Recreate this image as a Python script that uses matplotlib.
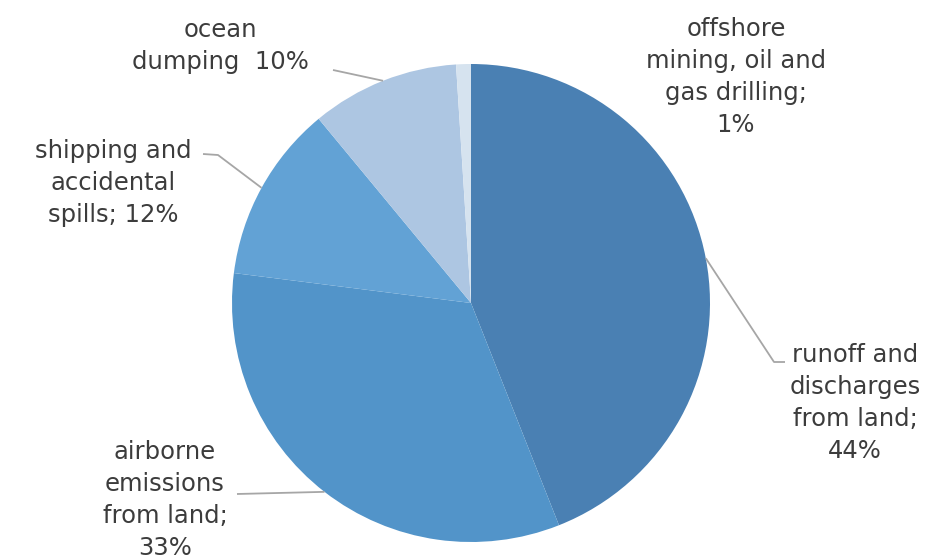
import matplotlib
matplotlib.use("Agg")
import matplotlib.pyplot as plt
import numpy as np

labels = ["runoff and\ndischarges\nfrom land;\n44%",
          "airborne\nemissions\nfrom land;\n33%",
          "shipping and\naccidental\nspills; 12%",
          "ocean\ndumping  10%",
          "offshore\nmining, oil and\ngas drilling;\n1%"]
values = [44, 33, 12, 10, 1]
colors = ["#4a80b3", "#5294c9", "#62a2d5", "#adc6e2", "#d6e3ef"]

W, H = 944, 560
fig = plt.figure(figsize=(W / 100, H / 100), dpi=100)
ax = fig.add_axes([0, 0, 1, 1])

cx, cy, r = 471, 303, 239
ax.pie(values, colors=colors, startangle=-90, counterclock=True,
       radius=r, center=(cx, cy), frame=True,
       wedgeprops=dict(linewidth=0))
ax.set_xlim(0, W)
ax.set_ylim(H, 0)
ax.set_aspect("equal")
ax.axis("off")

label_pos = [(855, 403), (165, 500), (113, 183), (220, 46), (736, 77)]
leaders = [[(785, 362), (774, 362)], [(237, 494)], [(203, 154), (218, 155)],
           [(333, 70)], None]

cum = np.cumsum([0] + values) / 100.0
txtc = "#3c3c3c"
for i, lab in enumerate(labels):
    frac = (cum[i] + cum[i + 1]) / 2
    ang = 2 * np.pi * frac
    ex = cx + r * np.sin(ang)
    ey = cy - r * np.cos(ang)
    if leaders[i] is not None:
        pts = leaders[i] + [(ex, ey)]
        xs, ys = zip(*pts)
        ax.plot(xs, ys, color="#a6a6a6", lw=1.3, solid_capstyle="butt")
    lx, ly = label_pos[i]
    ax.text(lx, ly, lab, ha="center", va="center", fontsize=17.5,
            color=txtc, linespacing=1.42, family="DejaVu Sans")

fig.savefig("out.png", dpi=100, facecolor="white")
